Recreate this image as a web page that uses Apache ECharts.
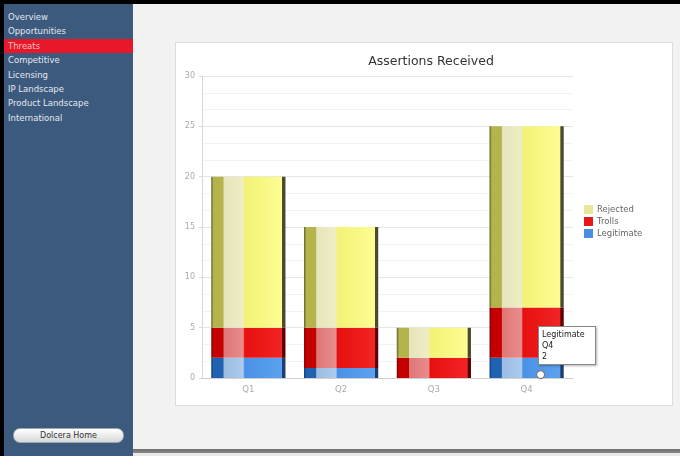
<!DOCTYPE html>
<html>
<head>
<meta charset="utf-8">
<script src="https://cdn.jsdelivr.net/npm/echarts@6/dist/echarts.min.js"></script>
<style>
  html, body { margin: 0; padding: 0; }
  body {
    width: 680px; height: 456px; position: relative; overflow: hidden;
    background: #000; font-family: "DejaVu Sans", sans-serif;
  }
  .side {
    position: absolute; left: 4px; top: 4px; width: 129px; height: 452px;
    background: #3c5a7e;
  }
  .side ul { list-style: none; margin: 6px 0 0 0; padding: 0; }
  .side li {
    height: 14.4px; line-height: 14.4px; font-size: 8.5px; color: #e4e8f0;
    padding-left: 4px; white-space: nowrap;
  }
  .side li.on { background: #e8182a; color: #f6c0c0; }
  .home {
    position: absolute; left: 9px; top: 424px; width: 109px; height: 13px;
    border-radius: 7px; background: linear-gradient(#ffffff, #d8d8d8);
    border: 1px solid #9aa; font-size: 8px; line-height: 13px; text-align: center;
    color: #333;
  }
  .main {
    position: absolute; left: 133px; top: 4px; width: 547px; height: 445px;
    background: #f2f2f2;
  }
  .foot {
    position: absolute; left: 133px; top: 449px; width: 547px; height: 7px;
    background: linear-gradient(#6e6e6e, #8a8a8a 60%, #e8e8e8 61%);
  }
  .panel {
    position: absolute; left: 175px; top: 42px; width: 496px; height: 362px;
    background: #fff; border: 1px solid #dcdcdc;
  }
  #chart { position: absolute; left: 0; top: 0; width: 496px; height: 362px; }
</style>
</head>
<body>
<div class="side">
  <ul>
    <li>Overview</li>
    <li>Opportunities</li>
    <li class="on">Threats</li>
    <li>Competitive</li>
    <li>Licensing</li>
    <li>IP Landscape</li>
    <li>Product Landscape</li>
    <li>International</li>
  </ul>
  <div class="home">Dolcera Home</div>
</div>
<div class="main"></div>
<div class="foot"></div>
<div class="panel"><div id="chart"></div></div>
<script>
const quarters = ["Q1", "Q2", "Q3", "Q4"];
const legitimate = [2, 1, 0, 2];
const trolls = [3, 4, 2, 5];
const rejected = [15, 10, 3, 18];
const legendOrder = ["Rejected", "Trolls", "Legitimate"];
const legendColors = { Rejected: "#e8e89a", Trolls: "#e41a1a", Legitimate: "#4a8ee0" };

// cylinder-like shading across each bar
function shade(edge, dark, light, lightEnd, base, baseEnd, rim) {
  return new echarts.graphic.LinearGradient(0, 0, 1, 0, [
    { offset: 0, color: edge },
    { offset: 0.03, color: dark },
    { offset: 0.16, color: dark },
    { offset: 0.17, color: light },
    { offset: 0.43, color: lightEnd },
    { offset: 0.45, color: base },
    { offset: 0.95, color: baseEnd },
    { offset: 0.96, color: rim },
    { offset: 1, color: rim }
  ]);
}

const yellowFill = shade("#5a5a2c", "#b4b34c", "#e6e4bc", "#eeedc4", "#f2f276", "#fdfd92", "#4a4a30");
const redFill = shade("#7a0000", "#c40000", "#e07676", "#e88c8c", "#e61010", "#f22424", "#5a0000");
const blueFill = shade("#103a70", "#2062b2", "#9cbce2", "#aacaee", "#4a90e6", "#5ca2f0", "#1e3e6e");

const chart = echarts.init(document.getElementById("chart"));
chart.setOption({
  animation: false,
  title: {
    text: "Assertions Received",
    left: 250, top: 7, textAlign: "center",
    textStyle: { fontSize: 12.5, fontWeight: "normal", color: "#333", fontFamily: "DejaVu Sans" }
  },
  legend: {
    data: legendOrder.map(n => ({ name: n, itemStyle: { color: legendColors[n] } })),
    orient: "vertical",
    left: 403, top: 157,
    itemWidth: 9, itemHeight: 9, itemGap: 3,
    icon: "rect",
    textStyle: { fontSize: 8.5, color: "#666", fontFamily: "DejaVu Sans", padding: [0, 0, 0, -1] }
  },
  tooltip: {
    trigger: "item",
    triggerOn: "none",
    alwaysShowContent: true,
    position: [362, 283],
    backgroundColor: "#fff",
    borderColor: "#888",
    borderWidth: 1,
    padding: [2, 3],
    extraCssText: "box-shadow: 1px 1px 2px rgba(0,0,0,0.3); border-radius: 0; width: 50px;",
    textStyle: { fontSize: 8, color: "#222", fontFamily: "DejaVu Sans", lineHeight: 11 },
    formatter: p => p.seriesName + "<br/>" + p.name + "<br/>" + p.value
  },
  grid: { left: 26, right: 99, top: 33, bottom: 27 },
  xAxis: {
    type: "category",
    data: quarters,
    axisLine: { lineStyle: { color: "#cfcfcf" } },
    axisTick: { show: false },
    axisLabel: { fontSize: 8.5, color: "#aaa", margin: 7, fontFamily: "DejaVu Sans" }
  },
  yAxis: {
    type: "value",
    min: 0, max: 30, interval: 5,
    axisLine: { show: true, lineStyle: { color: "#d8d8d8" } },
    axisTick: { show: true, length: 3, lineStyle: { color: "#d8d8d8" } },
    axisLabel: { fontSize: 8, color: "#aaa", margin: 7, fontFamily: "DejaVu Sans" },
    splitLine: { lineStyle: { color: "#e6e6e6" } },
    minorSplitLine: { show: true, lineStyle: { color: "#f3f3f3" } },
    minorTick: { show: false, splitNumber: 3 }
  },
  graphic: [{
    // mouse pointer ring under the tooltip
    type: "circle", left: 360, top: 327, z: 100,
    shape: { r: 4 },
    style: { fill: "#fff", stroke: "#777", lineWidth: 1.2 }
  }],
  series: [
    { name: "Legitimate", type: "bar", stack: "a", data: legitimate, barWidth: "80%",
      itemStyle: { color: blueFill }, emphasis: { disabled: true } },
    { name: "Trolls", type: "bar", stack: "a", data: trolls, barWidth: "80%",
      itemStyle: { color: redFill }, emphasis: { disabled: true } },
    { name: "Rejected", type: "bar", stack: "a", data: rejected, barWidth: "80%",
      itemStyle: { color: yellowFill }, emphasis: { disabled: true } }
  ]
});
chart.dispatchAction({ type: "showTip", seriesIndex: 0, dataIndex: 3 });
</script>
</body>
</html>
